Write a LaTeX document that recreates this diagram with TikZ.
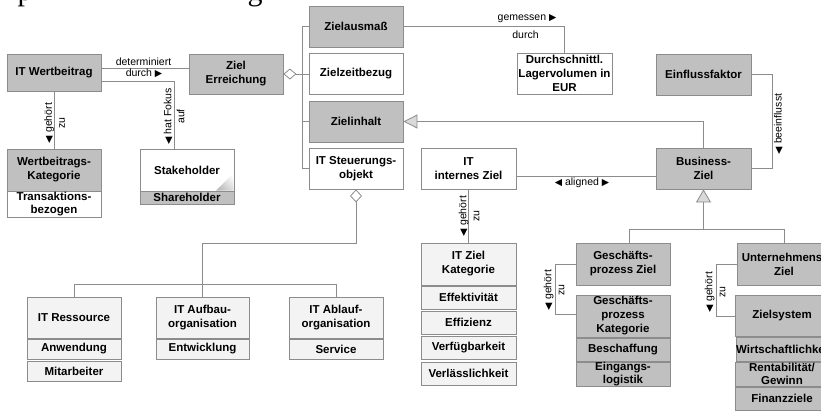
\documentclass[tikz,border=0pt]{standalone}
\usepackage{fontspec}
\setmainfont{Liberation Sans}
\newfontfamily\symf{DejaVu Sans}
\newfontfamily\serf{Liberation Serif}
\usetikzlibrary{arrows.meta}
\definecolor{boxgray}{HTML}{C0C0C0}
\definecolor{bordergray}{HTML}{8C8C8C}
\definecolor{lightfill}{HTML}{F3F3F3}
\definecolor{linegray}{HTML}{8C8C8C}
\definecolor{trifill}{HTML}{D9D9D9}
\newcommand{\tril}{{\fontsize{9.5}{9.5}\selectfont\symf ◀}}
\newcommand{\trir}{{\fontsize{9.5}{9.5}\selectfont\symf ▶}}
\tikzset{
  box/.style={draw=bordergray, line width=0.8pt, inner sep=0pt, align=center,
    font=\fontsize{11.5}{14}\selectfont\bfseries},
  gbox/.style={box, fill=boxgray},
  wbox/.style={box, fill=white},
  lbox/.style={box, fill=lightfill},
  sub/.style={font=\fontsize{11.5}{13}\selectfont\bfseries},
  conn/.style={draw=linegray, line width=0.8pt},
  lbl/.style={inner sep=0pt, align=center, font=\fontsize{10.5}{13}\selectfont},
  frag/.style={anchor=base west, inner sep=0pt, font=\fontsize{30}{30}\selectfont\serf}
}
\begin{document}
\begin{tikzpicture}[x=1pt,y=-1pt]
\useasboundingbox (0,0) rectangle (821,410);
\clip (0,0) rectangle (821,410);
\fill[white] (0,0) rectangle (821,410);

% cut-off caption fragments
\node[frag] (fp) at (17.5,0) {p};
\node[frag] (fg) at (247.5,0) {g};

% left part
\node[gbox, minimum width=94pt, minimum height=37pt] (wert) at (54,72.5) {IT Wertbeitrag};
\node[gbox, minimum width=94pt, minimum height=40pt] (ziel) at (236,74) {Ziel\\Erreichung};
\node[gbox, minimum width=94pt, minimum height=42pt] (wkat) at (54,170) {Wertbeitrags-\\Kategorie};
\node[wbox, sub, minimum width=94pt, minimum height=26pt] (wkat2) at (54,204) {Transaktions-\\bezogen};
\node[wbox, minimum width=94pt, minimum height=42pt] (stake) at (187,170) {Stakeholder};
\node[gbox, sub, minimum width=94pt, minimum height=13pt] (share) at (187,197.5) {Shareholder};
\begin{scope}
  \clip (233.6,190.6) -- (216,190.6) -- (233.6,173) -- cycle;
  \shade[shading=axis, left color=white, right color=gray!55, shading angle=-45] (214,171) rectangle (234,191);
\end{scope}

% middle column
\node[gbox, minimum width=94pt, minimum height=41pt] (zaus) at (356,26.5) {Zielausmaß};
\node[wbox, minimum width=94pt, minimum height=41pt] (zzeit) at (356,73.5) {Zielzeitbezug};
\node[gbox, minimum width=94pt, minimum height=41pt] (zinh) at (356,121.5) {Zielinhalt};
\node[wbox, minimum width=94pt, minimum height=41pt] (itst) at (356,168.5) {IT Steuerungs-\\objekt};
\node[wbox, minimum width=95pt, minimum height=41pt] (durch) at (564.5,73.5) {Durchschnittl.\\Lagervolumen in\\EUR};
\node[gbox, minimum width=95pt, minimum height=41pt] (einf) at (703.5,74.5) {Einflussfaktor};
\node[gbox, minimum width=95pt, minimum height=41pt] (bz) at (703.5,168.5) {Business-\\Ziel};
\node[wbox, minimum width=95pt, minimum height=41pt] (itint) at (468.5,168.5) {IT\\internes Ziel};

% IT Ziel Kategorie
\node[lbox, minimum width=95pt, minimum height=42pt] (itkat) at (468.5,264) {IT Ziel\\Kategorie};
\node[lbox, sub, minimum width=95pt, minimum height=23pt] (effek) at (468.5,297.5) {Effektivität};
\node[lbox, sub, minimum width=95pt, minimum height=23pt] (effiz) at (468.5,322.5) {Effizienz};
\node[lbox, sub, minimum width=95pt, minimum height=23pt] (verf) at (468.5,347.5) {Verfügbarkeit};
\node[lbox, sub, minimum width=95pt, minimum height=23pt] (verl) at (468.5,373.5) {Verlässlichkeit};

% IT resources row
\node[lbox, minimum width=94pt, minimum height=41pt] (itres) at (74,317.5) {IT Ressource};
\node[lbox, sub, minimum width=94pt, minimum height=20pt] (anw) at (74,349) {Anwendung};
\node[lbox, sub, minimum width=94pt, minimum height=20pt] (mit) at (74,371) {Mitarbeiter};
\node[lbox, minimum width=93pt, minimum height=41pt] (itauf) at (202.5,317.5) {IT Aufbau-\\organisation};
\node[lbox, sub, minimum width=93pt, minimum height=20pt] (entw) at (202.5,349) {Entwicklung};
\node[lbox, minimum width=94pt, minimum height=41pt] (itabl) at (336,317.5) {IT Ablauf-\\organisation};
\node[lbox, sub, minimum width=94pt, minimum height=20pt] (serv) at (336,349) {Service};

% business side
\node[gbox, minimum width=94pt, minimum height=42pt] (gpz) at (623,264) {Geschäfts-\\prozess Ziel};
\node[gbox, minimum width=94pt, minimum height=42pt] (gpk) at (623,316) {Geschäfts-\\prozess\\Kategorie};
\node[gbox, sub, minimum width=94pt, minimum height=23pt] (besch) at (623,349.5) {Beschaffung};
\node[gbox, sub, minimum width=94pt, minimum height=24pt] (eing) at (623,374) {Eingangs-\\logistik};
\node[gbox, minimum width=94pt, minimum height=42pt] (uz) at (784,264) {Unternehmens-\\Ziel};
\node[gbox, minimum width=94pt, minimum height=41pt] (zs) at (782,315.5) {Zielsystem};
\node[gbox, sub, minimum width=94pt, minimum height=24pt] (wirt) at (784,349) {Wirtschaftlichkeit};
\node[gbox, sub, minimum width=94pt, minimum height=24pt] (rent) at (782,374) {Rentabilität/\\Gewinn};
\node[gbox, sub, minimum width=94pt, minimum height=23pt] (fin) at (782,398.5) {Finanzziele};

% connectors
\draw[conn] (wert.east |- 0,68) -- (ziel.west |- 0,68);
\draw[conn] (wert.east |- 0,81) -| (174,0 |- stake.north);
\draw[conn] (wert.south) -- (wkat.north);
\draw[conn, {Diamond[fill=white,length=13pt,width=11pt]}-] (ziel.east) -- (zzeit.west |- ziel.east);
\draw[conn] (zaus.west) -- (302,0 |- zaus.west) -- (302,0 |- itst.west) -- (itst.west);
\draw[conn] (zinh.west) -- (302,0 |- zinh.west);
\draw[conn] (zaus.east) -| (durch.north);
\draw[conn, -{Triangle[fill=trifill,length=14pt,width=14pt]}] (bz.north) |- (zinh.east);
\draw[conn] (einf.east) -- (772,0 |- einf.east) -- (772,0 |- bz.east) -- (bz.east);
\draw[conn] (itint.east |- 0,176) -- (bz.west |- 0,176);
\draw[conn] (itint.south) -- (itkat.north);
\draw[conn, {Diamond[fill=white,length=13pt,width=12pt]}-] (itst.south) -- (356,243) -| (itauf.north);
\draw[conn] (itres.north) -- (itres.north |- 0,284) -- (itabl.north |- 0,284) -- (itabl.north);
\draw[conn, {Triangle[fill=trifill,length=13pt,width=15pt]}-] (bz.south) -- (bz.south |- 0,229);
\draw[conn] (629,0 |- gpz.north) -- (629,229) -- (uz.north |- 0,229) -- (uz.north);
\draw[conn] (gpz.west) -- (555,0 |- gpz.west) -- (555,314) -- (gpk.west |- 0,314);
\draw[conn] (uz.west) -- (716,0 |- uz.west) -- (716,316) -- (zs.west |- 0,316);

% labels
\node[lbl] (l1) at (143.5,61.5) {determiniert};
\node[lbl] (l2) at (144,73.5) {durch \trir};
\node[lbl] (l3) at (527,19) {gemessen \trir};
\node[lbl] (l4) at (525.5,35) {durch};
\node[lbl] (l5) at (582,183) {\tril\ aligned \trir};
\node[lbl, rotate=90] (l6) at (54.5,123) {\tril\ gehört\\zu};
\node[lbl, rotate=90] (l7) at (174,116.5) {\tril\ hat Fokus\\auf};
\node[lbl, rotate=90] (l8) at (469,216) {\tril\ gehört\\zu};
\node[lbl, rotate=90] (l9) at (554,290) {\tril\ gehört\\zu};
\node[lbl, rotate=90] (l10) at (715,292) {\tril\ gehört\\zu};
\node[lbl, rotate=90] (l11) at (778.5,124) {\tril\ beeinflusst};
\end{tikzpicture}
\end{document}
